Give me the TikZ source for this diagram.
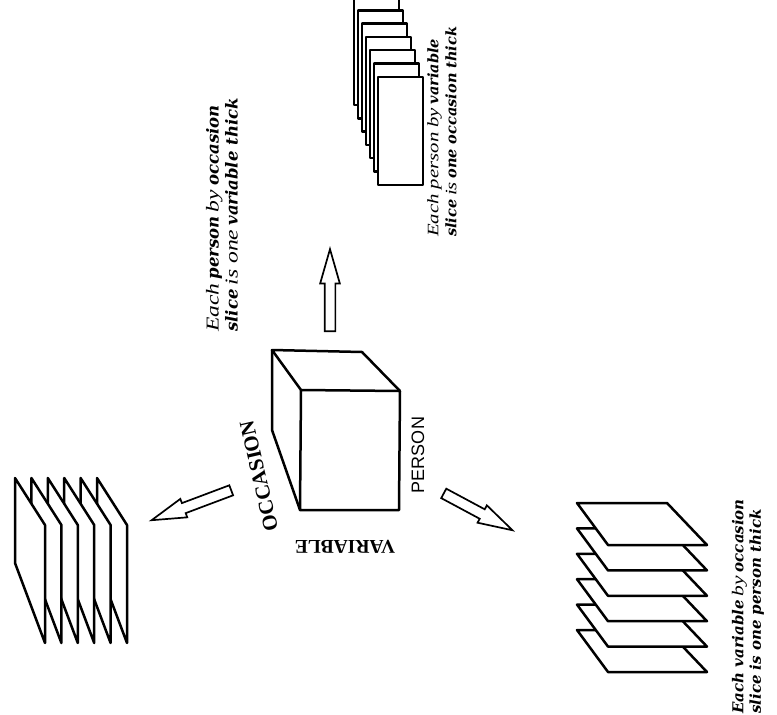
\documentclass[tikz,border=0pt]{standalone}
\usepackage{fontspec}
\setmainfont{Liberation Serif}
\newfontfamily\heavyfont{DejaVu Serif}
\newfontfamily\lightfont{Liberation Serif}[Scale=1.1, FakeStretch=1.3]
\newfontfamily\labelsans{Liberation Sans}
\usetikzlibrary{calc, positioning}
\usetikzlibrary{shapes.arrows}

\newcommand{\capbold}[1]{{\heavyfont\bfseries\itshape #1}}
\newcommand{\caplight}[1]{{\lightfont\itshape #1}}

\tikzset{
  edge/.style={line width=2.5pt, line join=round},
  slice/.style={edge, fill=white},
  blockarrow/.style={single arrow, draw, line width=1.7pt, fill=white,
    inner xsep=0pt, inner ysep=4.5pt, single arrow head extend=4.5pt,
    single arrow tip angle=32, anchor=tail},
  caption/.style={rotate=90, anchor=west, align=left, inner sep=0pt}
}

\begin{document}
\begin{tikzpicture}[x=1pt, y=-1pt]
\useasboundingbox (0,0) rectangle (777,715);

\coordinate (BTL) at (272,350);
\coordinate (BTR) at (362,352);
\coordinate (FTR) at (400,391);
\coordinate (FTL) at (301,390);
\coordinate (FBL) at (300,510);
\coordinate (FBR) at (399,510);
\coordinate (BBL) at (272,430);

\draw[edge] (FTL) -- (FTR) -- (FBR) -- (FBL) -- cycle;
\draw[edge] (FTL) -- (BTL) -- (BTR) -- (FTR);
\draw[edge] (BTL) -- (BBL) -- (FBL);

\node[rotate=90, font=\labelsans\fontsize{18}{18}\selectfont] (person) at (418,455) {PERSON};
\node[rotate=180, font=\bfseries\fontsize{19.5}{19.5}\selectfont] (variable) at (345,547) {VARIABLE};
\node[rotate=103, font=\bfseries\fontsize{21}{21}\selectfont] (occasion) at (259,476) {OCCASION};

\coordinate (upTail) at (330,332);
\coordinate (leftTail) at (232,490);
\coordinate (rightTail) at (443,493);
\node[blockarrow, minimum height=82pt, rotate=90] (upArrow) at (upTail) {};
\node[blockarrow, minimum height=85pt, rotate=200.6] (leftArrow) at (leftTail) {};
\node[blockarrow, minimum height=78pt, rotate=-28.2] (rightArrow) at (rightTail) {};

\foreach \j in {0,...,6}
  \draw[slice] ({354+4*\j},{-3+13.3*\j}) rectangle ++(45,108);

\foreach \k in {5,4,...,0}
  \draw[slice] ({15+16.4*\k},478) -- ++(30,47) -- ++(0,118) -- ++(-30,-80) -- cycle;

\foreach \i in {5,4,...,0}
  \draw[slice] (577,{503+25.4*\i}) -- ++(90,0) -- ++(40,42) -- ++(-99,0) -- cycle;

\node[caption, font=\fontsize{16.5}{19}\selectfont] (leftText) at (222,332)
  {\caplight{Each} \capbold{person} \caplight{by} \capbold{occasion}\\
   \capbold{slice} \caplight{is one} \capbold{variable thick}};
\node[caption, font=\fontsize{14.5}{18}\selectfont] (topText) at (442,237)
  {\caplight{Each person by} \capbold{variable}\\
   \capbold{slice} \caplight{is} \capbold{one occasion thick}};
\node[caption, font=\fontsize{15}{17.5}\selectfont] (rightText) at (748,714)
  {\capbold{Each variable} \caplight{by} \capbold{occasion}\\
   \capbold{slice is one person thick}};
\end{tikzpicture}
\end{document}
